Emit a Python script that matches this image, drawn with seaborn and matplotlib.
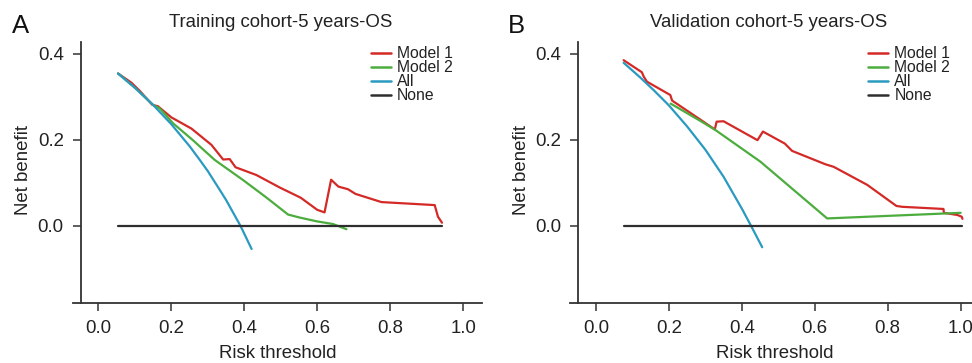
import matplotlib
matplotlib.use("Agg")
import matplotlib.pyplot as plt
from matplotlib.lines import Line2D
import seaborn as sns
import pandas as pd

# ---------------- data ----------------
series_names = ["Model 1", "Model 2", "All", "None"]
tick_values = [0.0, 0.2, 0.4, 0.6, 0.8, 1.0]
tick_labels = ["0.0", "0.2", "0.4", "0.6", "0.8", "1.0"]
ytick_values = [0.0, 0.2, 0.4]
ytick_labels = ["0.0", "0.2", "0.4"]

# Panel A - Training cohort
a_m1_x = [0.054, 0.090, 0.113, 0.148, 0.163, 0.200, 0.255, 0.310, 0.342, 0.360, 0.376,
          0.433, 0.497, 0.555, 0.600, 0.620, 0.638, 0.658, 0.684, 0.705, 0.776, 0.922,
          0.931, 0.942]
a_m1_y = [0.354, 0.333, 0.314, 0.281, 0.278, 0.252, 0.226, 0.188, 0.154, 0.155, 0.136,
          0.118, 0.089, 0.065, 0.037, 0.031, 0.107, 0.091, 0.085, 0.074, 0.055, 0.048,
          0.021, 0.007]
a_m2_x = [0.054, 0.100, 0.150, 0.168, 0.205, 0.259, 0.319, 0.397, 0.460, 0.520, 0.552,
          0.600, 0.643, 0.680]
a_m2_y = [0.354, 0.321, 0.281, 0.273, 0.238, 0.199, 0.153, 0.106, 0.066, 0.026, 0.019,
          0.010, 0.004, -0.008]
a_all_x = [0.054, 0.100, 0.150, 0.200, 0.250, 0.278, 0.300, 0.333, 0.350, 0.390, 0.420]
a_all_y = [0.354, 0.321, 0.281, 0.236, 0.185, 0.153, 0.127, 0.083, 0.060, -0.001, -0.054]
a_none_x = [0.054, 0.942]
a_none_y = [0.0, 0.0]

# Panel B - Validation cohort
b_m1_x = [0.076, 0.126, 0.131, 0.140, 0.204, 0.209, 0.286, 0.326, 0.331, 0.350, 0.443,
          0.458, 0.518, 0.538, 0.629, 0.652, 0.744, 0.824, 0.840, 0.953, 0.954, 0.991,
          1.003, 1.005]
b_m1_y = [0.385, 0.357, 0.347, 0.335, 0.304, 0.291, 0.247, 0.224, 0.242, 0.243, 0.199,
          0.219, 0.191, 0.174, 0.143, 0.137, 0.095, 0.046, 0.044, 0.039, 0.030, 0.025,
          0.021, 0.016]
b_m2_x = [0.205, 0.286, 0.327, 0.451, 0.634, 1.000]
b_m2_y = [0.284, 0.244, 0.223, 0.149, 0.017, 0.030]
b_all_x = [0.076, 0.120, 0.160, 0.200, 0.250, 0.300, 0.350, 0.400, 0.424, 0.456]
b_all_y = [0.379, 0.346, 0.314, 0.280, 0.231, 0.177, 0.114, 0.040, 0.002, -0.050]
b_none_x = [0.077, 1.005]
b_none_y = [0.0, 0.0]

titles = ["Training cohort-5 years-OS", "Validation cohort-5 years-OS"]
panel_letters = ["A", "B"]

colors = {"Model 1": "#D42A27", "Model 2": "#4CAD3E", "All": "#2A9AC0", "None": "#2E2E2E"}


def make_df(m1x, m1y, m2x, m2y, ax_, ay_, nx, ny):
    frames = []
    for name, xs, ys in [("Model 1", m1x, m1y), ("Model 2", m2x, m2y),
                         ("All", ax_, ay_), ("None", nx, ny)]:
        frames.append(pd.DataFrame({"Risk threshold": xs, "Net benefit": ys, "Curve": name}))
    return pd.concat(frames, ignore_index=True)


df_a = make_df(a_m1_x, a_m1_y, a_m2_x, a_m2_y, a_all_x, a_all_y, a_none_x, a_none_y)
df_b = make_df(b_m1_x, b_m1_y, b_m2_x, b_m2_y, b_all_x, b_all_y, b_none_x, b_none_y)

# ---------------- style ----------------
sns.set_theme(style="ticks")
plt.rcParams["font.family"] = ["Liberation Sans", "DejaVu Sans"]
FS = 13.4
DARK = "#333333"

W, H = 972, 363
fig = plt.figure(figsize=(W / 100, H / 100), dpi=100)

ax_w, ax_h = 409.6, 261.0
ax_bottom = H - 302.7
lefts = [72.5, 570.0]
title_cx = [281.0, 768.3]
letter_x = [12.0, 508.0]
legend_x = [370.7, 868.3]

for i, df in enumerate([df_a, df_b]):
    ax = fig.add_axes([lefts[i] / W, ax_bottom / H, ax_w / W, ax_h / H])
    sns.lineplot(data=df, x="Risk threshold", y="Net benefit", hue="Curve",
                 hue_order=series_names, palette=colors, estimator=None, sort=False,
                 linewidth=1.6, legend=False, ax=ax)
    ax.set_xlim(-0.071, 1.052)
    ax.set_ylim(-0.179, 0.428)
    ax.set_xticks(tick_values)
    ax.set_xticklabels(tick_labels)
    ax.set_yticks(ytick_values)
    ax.set_yticklabels(ytick_labels)
    for s in ["top", "right"]:
        ax.spines[s].set_visible(False)
    ax.spines["left"].set_position(("data", -0.048))
    for s in ["left", "bottom"]:
        ax.spines[s].set_color(DARK)
        ax.spines[s].set_linewidth(1.3)
    ax.tick_params(axis="both", labelsize=FS, colors=DARK, length=5.5, width=1.1, pad=6.8)
    ax.tick_params(axis="both", labelcolor="#222222")
    ax.set_xlabel("Risk threshold", fontsize=FS, color="#222222")
    ax.set_ylabel("Net benefit", fontsize=FS, color="#222222")
    ax.xaxis.set_label_coords(0.5, -0.161)
    ax.yaxis.set_label_coords(-0.0984, 0.508)

    handles = [Line2D([0], [0], color=colors[n], lw=1.8) for n in series_names]
    ax.legend(handles, series_names, loc="upper left",
              bbox_to_anchor=(legend_x[i] / W, 1 - 46.0 / H),
              bbox_transform=fig.transFigure, frameon=False, fontsize=11.3,
              handlelength=1.28, handletextpad=0.38, labelspacing=-0.06,
              borderpad=0, borderaxespad=0, labelcolor="#222222")

    fig.text(title_cx[i] / W, 1 - 26.6 / H, titles[i], ha="center", va="baseline",
             fontsize=FS, color="#222222")
    fig.text(letter_x[i] / W, 1 - 33.0 / H, panel_letters[i], ha="left", va="baseline",
             fontsize=18.5, color="#111111")

fig.savefig("out.png", dpi=100)
